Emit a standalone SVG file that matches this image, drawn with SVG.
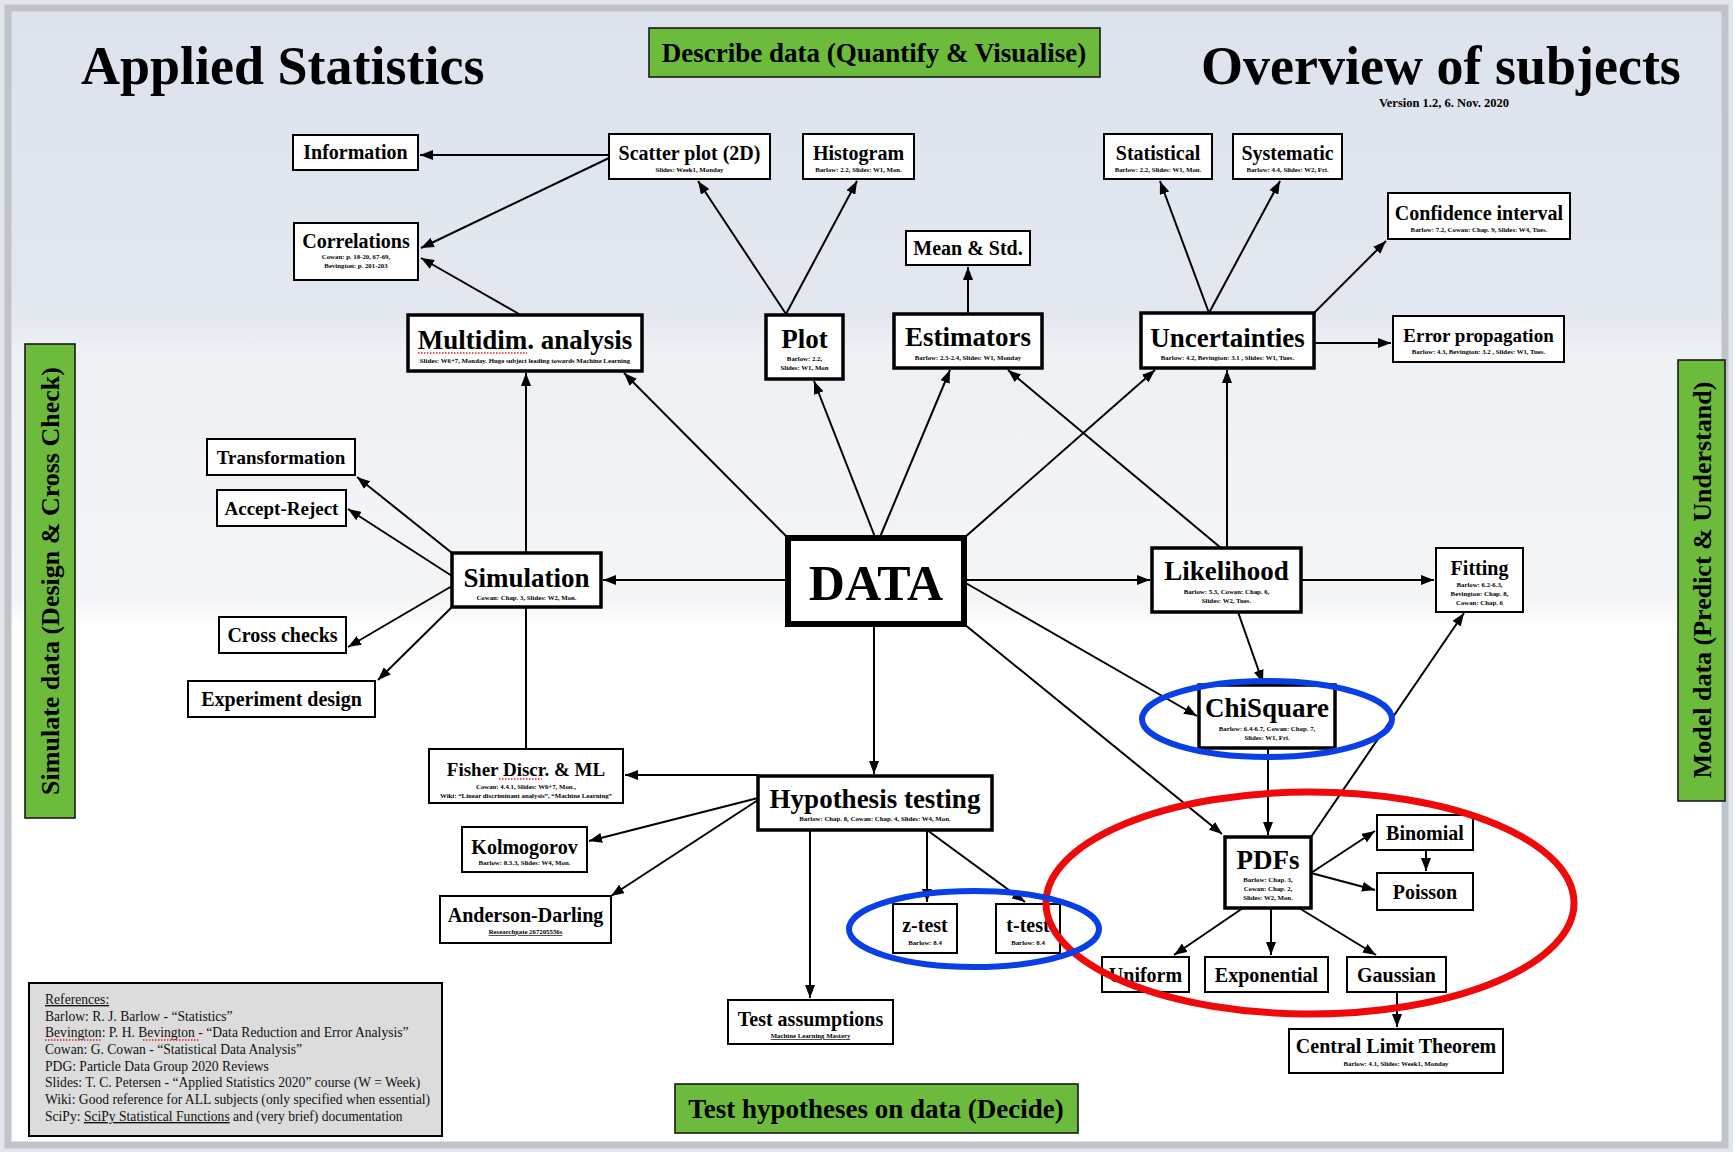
<svg xmlns="http://www.w3.org/2000/svg" width="1733" height="1152" viewBox="0 0 1733 1152">
<defs>
<linearGradient id="bg" x1="0" y1="0" x2="0" y2="1">
<stop offset="0" stop-color="#dce3ed"/>
<stop offset="0.27" stop-color="#e3e8f0"/>
<stop offset="0.30" stop-color="#edf0f4"/>
<stop offset="0.52" stop-color="#f4f5f7"/>
<stop offset="0.545" stop-color="#ffffff"/>
<stop offset="1" stop-color="#ffffff"/>
</linearGradient>
<marker id="ah" markerUnits="userSpaceOnUse" markerWidth="13" markerHeight="10" refX="13" refY="5" orient="auto">
<path d="M0,0 L13,5 L0,10 z" fill="#000"/>
</marker>
<style>
.box{fill:#fff;stroke:#000;stroke-width:2}
.thick{stroke-width:3.5}
.xthick{stroke-width:6}
.green{fill:#6dbb3c;stroke:#1a1a1a;stroke-width:1.6}
text{font-family:"Liberation Serif","Times New Roman",serif}
.t{font-weight:bold;text-anchor:middle;fill:#000;font-size:20px}
.t19{font-size:19px}
.big{font-size:27px}
.lab{font-size:27px}
.vlab{font-size:26px}
.huge{font-size:50px}
.s{font-weight:bold;text-anchor:middle;fill:#000;font-size:6.8px}
.c{stroke:#000;stroke-width:2;fill:none;marker-end:url(#ah)}
.plain{stroke:#000;stroke-width:2;fill:none}
.sq{stroke:#e02020;stroke-width:1.4;stroke-dasharray:1.5 1.5;fill:none}
.ref{font-size:13.6px;fill:#111}
.title{font-size:54px;font-weight:bold;fill:#000}
</style>
</defs>

<!-- background -->
<rect x="0" y="0" width="1733" height="1152" fill="#e2e6eb"/>
<rect x="8" y="8" width="1717" height="1137" fill="url(#bg)" stroke="#bfc4cb" stroke-width="7"/>

<!-- titles -->
<text class="title" x="81" y="84">Applied Statistics</text>
<text class="title" x="1201" y="84">Overview of subjects</text>
<text x="1444" y="107" style="font-size:12.5px;font-weight:bold" text-anchor="middle">Version 1.2, 6. Nov. 2020</text>

<!-- green category boxes -->
<g id="describe">
<rect class="green" x="649" y="28" width="451" height="49"/>
<text class="t lab" x="874" y="62">Describe data (Quantify &amp; Visualise)</text>
</g>
<g id="test-hyp-label">
<rect class="green" x="675" y="1084" width="403" height="49"/>
<text class="t lab" x="876" y="1118">Test hypotheses on data (Decide)</text>
</g>
<g id="simulate-label">
<rect class="green" x="25" y="344" width="50" height="474"/>
<text class="t vlab" transform="translate(59,581) rotate(-90)">Simulate data (Design &amp; Cross Check)</text>
</g>
<g id="model-label">
<rect class="green" x="1678" y="360" width="47" height="441"/>
<text class="t vlab" transform="translate(1711,580) rotate(-90)">Model data (Predict &amp; Understand)</text>
</g>

<!-- connectors -->
<g id="connectors">
<path class="c" d="M609,155 L420,155"/>
<path class="c" d="M609,158 L421,248"/>
<path class="c" d="M519,314 L421,258"/>
<path class="c" d="M786,314 L698,181"/>
<path class="c" d="M786,314 L857,181"/>
<path class="c" d="M968,314 L968,267"/>
<path class="c" d="M1209,313 L1160,181"/>
<path class="c" d="M1209,313 L1280,181"/>
<path class="c" d="M1313,314 L1386,241"/>
<path class="c" d="M1314,343 L1391,343"/>
<path class="c" d="M788,538 L624,373"/>
<path class="c" d="M875,537 L814,381"/>
<path class="c" d="M880,537 L950,370"/>
<path class="c" d="M964,538 L1155,370"/>
<path class="c" d="M1221,548 L1008,370"/>
<path class="c" d="M1227,548 L1227,370"/>
<path class="c" d="M964,580 L1150,580"/>
<path class="c" d="M1301,580 L1434,580"/>
<path class="c" d="M788,580 L603,580"/>
<path class="c" d="M526,553 L526,373"/>
<path class="c" d="M452,553 L357,477"/>
<path class="c" d="M452,576 L348,509"/>
<path class="c" d="M452,586 L348,647"/>
<path class="c" d="M452,607 L378,680"/>
<path class="plain" d="M526,607 L526,749"/>
<path class="c" d="M874,624 L874,774"/>
<path class="c" d="M758,775 L625,775"/>
<path class="c" d="M758,798 L589,841"/>
<path class="c" d="M758,800 L611,896"/>
<path class="c" d="M810,830 L810,998"/>
<path class="c" d="M927,830 L927,902"/>
<path class="c" d="M927,830 L1025,902"/>
<path class="c" d="M964,582 L1197,716"/>
<path class="c" d="M964,624 L1222,834"/>
<path class="c" d="M1238,612 L1263,683"/>
<path class="c" d="M1268,748 L1268,835"/>
<path class="c" d="M1311,837 L1464,613"/>
<path class="c" d="M1311,873 L1375,831"/>
<path class="c" d="M1311,873 L1375,890"/>
<path class="c" d="M1426,850 L1426,871"/>
<path class="c" d="M1243,908 L1174,955"/>
<path class="c" d="M1271,908 L1271,955"/>
<path class="c" d="M1299,908 L1376,955"/>
<path class="c" d="M1397,992 L1397,1027"/>
</g>

<!-- nodes -->
<g id="information"><rect class="box" x="293" y="135" width="125" height="35"/><text class="t" x="355.5" y="159">Information</text></g>
<g id="scatter"><rect class="box" x="609" y="134" width="161" height="45"/><text class="t" x="689.5" y="160">Scatter plot (2D)</text><text class="s" x="689.5" y="172">Slides: Week1, Monday</text></g>
<g id="histogram"><rect class="box" x="803" y="134" width="111" height="45"/><text class="t" x="858.5" y="160">Histogram</text><text class="s" x="858.5" y="172">Barlow: 2.2, Slides: W1, Mon.</text></g>
<g id="correlations"><rect class="box" x="294" y="223" width="124" height="57"/><text class="t" x="356" y="248">Correlations</text><text class="s" x="356" y="259">Cowan: p. 18-20, 67-69,</text><text class="s" x="356" y="268">Bevington: p. 201-203</text></g>
<g id="mean-std"><rect class="box" x="906" y="231" width="124" height="34"/><text class="t" x="968" y="255">Mean &amp; Std.</text></g>
<g id="statistical"><rect class="box" x="1104" y="134" width="108" height="45"/><text class="t" x="1158" y="160">Statistical</text><text class="s" x="1158" y="172">Barlow: 2.2, Slides: W1, Mon.</text></g>
<g id="systematic"><rect class="box" x="1233" y="134" width="109" height="45"/><text class="t" x="1287.5" y="160">Systematic</text><text class="s" x="1287.5" y="172">Barlow: 4.4, Slides: W2, Fri.</text></g>
<g id="confidence"><rect class="box" x="1388" y="193" width="182" height="46"/><text class="t" x="1479" y="220">Confidence interval</text><text class="s" x="1479" y="232">Barlow: 7.2, Cowan: Chap. 9, Slides: W4, Tues.</text></g>
<g id="multidim"><rect class="box thick" x="408" y="315" width="234" height="56"/><text class="t big" x="525" y="349">Multidim. analysis</text><path class="sq" d="M418,353 L527,353"/><text class="s" x="525" y="363">Slides: W6+7, Monday. Huge subject leading towards Machine Learning</text></g>
<g id="plot"><rect class="box thick" x="766" y="315" width="77" height="64"/><text class="t big" x="804.5" y="348">Plot</text><text class="s" x="804.5" y="361">Barlow: 2.2,</text><text class="s" x="804.5" y="370">Slides: W1, Mon</text></g>
<g id="estimators"><rect class="box thick" x="894" y="314" width="148" height="54"/><text class="t big" x="968" y="346">Estimators</text><text class="s" x="968" y="360">Barlow: 2.3-2.4, Slides: W1, Monday</text></g>
<g id="uncertainties"><rect class="box thick" x="1141" y="313" width="173" height="55"/><text class="t big" x="1227.5" y="347">Uncertainties</text><text class="s" x="1227.5" y="360">Barlow: 4.2, Bevington: 3.1 , Slides: W1, Tues.</text></g>
<g id="error-propagation"><rect class="box" x="1393" y="316" width="171" height="46"/><text class="t t19" x="1478.5" y="342">Error propagation</text><text class="s" x="1478.5" y="354">Barlow: 4.3, Bevington: 3.2 , Slides: W1, Tues.</text></g>
<g id="transformation"><rect class="box" x="207" y="439" width="148" height="36"/><text class="t t19" x="281" y="464">Transformation</text></g>
<g id="accept-reject"><rect class="box" x="217" y="490" width="129" height="36"/><text class="t t19" x="281.5" y="515">Accept-Reject</text></g>
<g id="simulation"><rect class="box thick" x="452" y="553" width="149" height="54"/><text class="t big" x="526.5" y="587">Simulation</text><text class="s" x="526.5" y="600">Cowan: Chap. 3, Slides: W2, Mon.</text></g>
<g id="cross-checks"><rect class="box" x="219" y="617" width="127" height="36"/><text class="t" x="282.5" y="642">Cross checks</text></g>
<g id="experiment-design"><rect class="box" x="188" y="681" width="187" height="36"/><text class="t" x="281.5" y="706">Experiment design</text></g>
<g id="data"><rect class="box xthick" x="788" y="538" width="176" height="86"/><text class="t huge" x="876" y="600">DATA</text></g>
<g id="likelihood"><rect class="box thick" x="1152" y="548" width="149" height="64"/><text class="t big" x="1226.5" y="580">Likelihood</text><text class="s" x="1226.5" y="594">Barlow: 5.3, Cowan: Chap. 6,</text><text class="s" x="1226.5" y="603">Slides: W2, Tues.</text></g>
<g id="fitting"><rect class="box" x="1436" y="548" width="87" height="64"/><text class="t" x="1479.5" y="575">Fitting</text><text class="s" x="1479.5" y="587">Barlow: 6.2-6.3,</text><text class="s" x="1479.5" y="596">Bevington: Chap. 8,</text><text class="s" x="1479.5" y="605">Cowan: Chap. 6</text></g>
<g id="chisquare"><rect class="box thick" x="1199" y="685" width="136" height="63"/><text class="t big" x="1267" y="717">ChiSquare</text><text class="s" x="1267" y="731">Barlow: 6.4-6.7, Cowan: Chap. 7,</text><text class="s" x="1267" y="740">Slides: W1, Fri.</text></g>
<g id="fisher"><rect class="box" x="429" y="749" width="194" height="54"/><text class="t t19" x="526" y="776">Fisher Discr. &amp; ML</text><path class="sq" d="M499,779 L542,779"/><text class="s" x="526" y="789">Cowan: 4.4.1, Slides: W6+7, Mon.,</text><text class="s" x="526" y="798">Wiki: “Linear discriminant analysis”, “Machine Learning”</text></g>
<g id="hypothesis"><rect class="box thick" x="758" y="776" width="234" height="54"/><text class="t big" x="875" y="808">Hypothesis testing</text><text class="s" x="875" y="821">Barlow: Chap. 8, Cowan: Chap. 4, Slides: W4, Mon.</text></g>
<g id="kolmogorov"><rect class="box" x="462" y="827" width="125" height="45"/><text class="t" x="524.5" y="854">Kolmogorov</text><text class="s" x="524.5" y="865">Barlow: 8.3.3, Slides: W4, Mon.</text></g>
<g id="anderson-darling"><rect class="box" x="440" y="896" width="171" height="47"/><text class="t" x="525.5" y="922">Anderson-Darling</text><text class="s" x="525.5" y="934" text-decoration="underline">Researchgate 267205556s</text></g>
<g id="z-test"><rect class="box" x="893" y="904" width="64" height="49"/><text class="t" x="925" y="932">z-test</text><text class="s" x="925" y="945">Barlow: 8.4</text></g>
<g id="t-test"><rect class="box" x="996" y="904" width="64" height="49"/><text class="t" x="1028" y="932">t-test</text><text class="s" x="1028" y="945">Barlow: 8.4</text></g>
<g id="test-assumptions"><rect class="box" x="728" y="1000" width="165" height="44"/><text class="t" x="810.5" y="1026">Test assumptions</text><text class="s" x="810.5" y="1038" text-decoration="underline">Machine Learning Mastery</text></g>
<g id="pdfs"><rect class="box thick" x="1225" y="837" width="86" height="71"/><text class="t big" x="1268" y="869">PDFs</text><text class="s" x="1268" y="882">Barlow: Chap. 3,</text><text class="s" x="1268" y="891">Cowan: Chap. 2,</text><text class="s" x="1268" y="900">Slides: W2, Mon.</text></g>
<g id="binomial"><rect class="box" x="1377" y="815" width="96" height="35"/><text class="t" x="1425" y="840">Binomial</text></g>
<g id="poisson"><rect class="box" x="1377" y="873" width="96" height="37"/><text class="t" x="1425" y="899">Poisson</text></g>
<g id="uniform"><rect class="box" x="1102" y="957" width="87" height="35"/><text class="t" x="1145.5" y="982">Uniform</text></g>
<g id="exponential"><rect class="box" x="1205" y="957" width="123" height="35"/><text class="t" x="1266.5" y="982">Exponential</text></g>
<g id="gaussian"><rect class="box" x="1347" y="957" width="99" height="35"/><text class="t" x="1396.5" y="982">Gaussian</text></g>
<g id="clt"><rect class="box" x="1289" y="1029" width="214" height="44"/><text class="t" x="1396" y="1053">Central Limit Theorem</text><text class="s" x="1396" y="1066">Barlow: 4.1, Slides: Week1, Monday</text></g>

<!-- highlight ellipses -->
<g id="highlights" fill="none">
<ellipse cx="1310" cy="903" rx="264" ry="111" stroke="#ee0a0a" stroke-width="7"/>
<ellipse cx="1267" cy="719" rx="125" ry="38" stroke="#0a3fe6" stroke-width="6"/>
<ellipse cx="974" cy="929" rx="125" ry="38" stroke="#0a3fe6" stroke-width="6"/>
</g>

<!-- references -->
<g id="references">
<rect x="29" y="983" width="413" height="153" fill="#dcdcdc" stroke="#000" stroke-width="2"/>
<text class="ref" x="45" y="1004" text-decoration="underline">References:</text>
<text class="ref" x="45" y="1021">Barlow: R. J. Barlow - “Statistics”</text>
<text class="ref" x="45" y="1037">Bevington: P. H. Bevington - “Data Reduction and Error Analysis”</text>
<path class="sq" d="M45,1040 L102,1040 M143,1040 L199,1040"/>
<text class="ref" x="45" y="1054">Cowan: G. Cowan - “Statistical Data Analysis”</text>
<text class="ref" x="45" y="1071">PDG: Particle Data Group 2020 Reviews</text>
<text class="ref" x="45" y="1087">Slides: T. C. Petersen - “Applied Statistics 2020” course (W = Week)</text>
<text class="ref" x="45" y="1104">Wiki: Good reference for ALL subjects (only specified when essential)</text>
<text class="ref" x="45" y="1121">SciPy: <tspan text-decoration="underline">SciPy Statistical Functions</tspan> and (very brief) documentation</text>
</g>
</svg>
